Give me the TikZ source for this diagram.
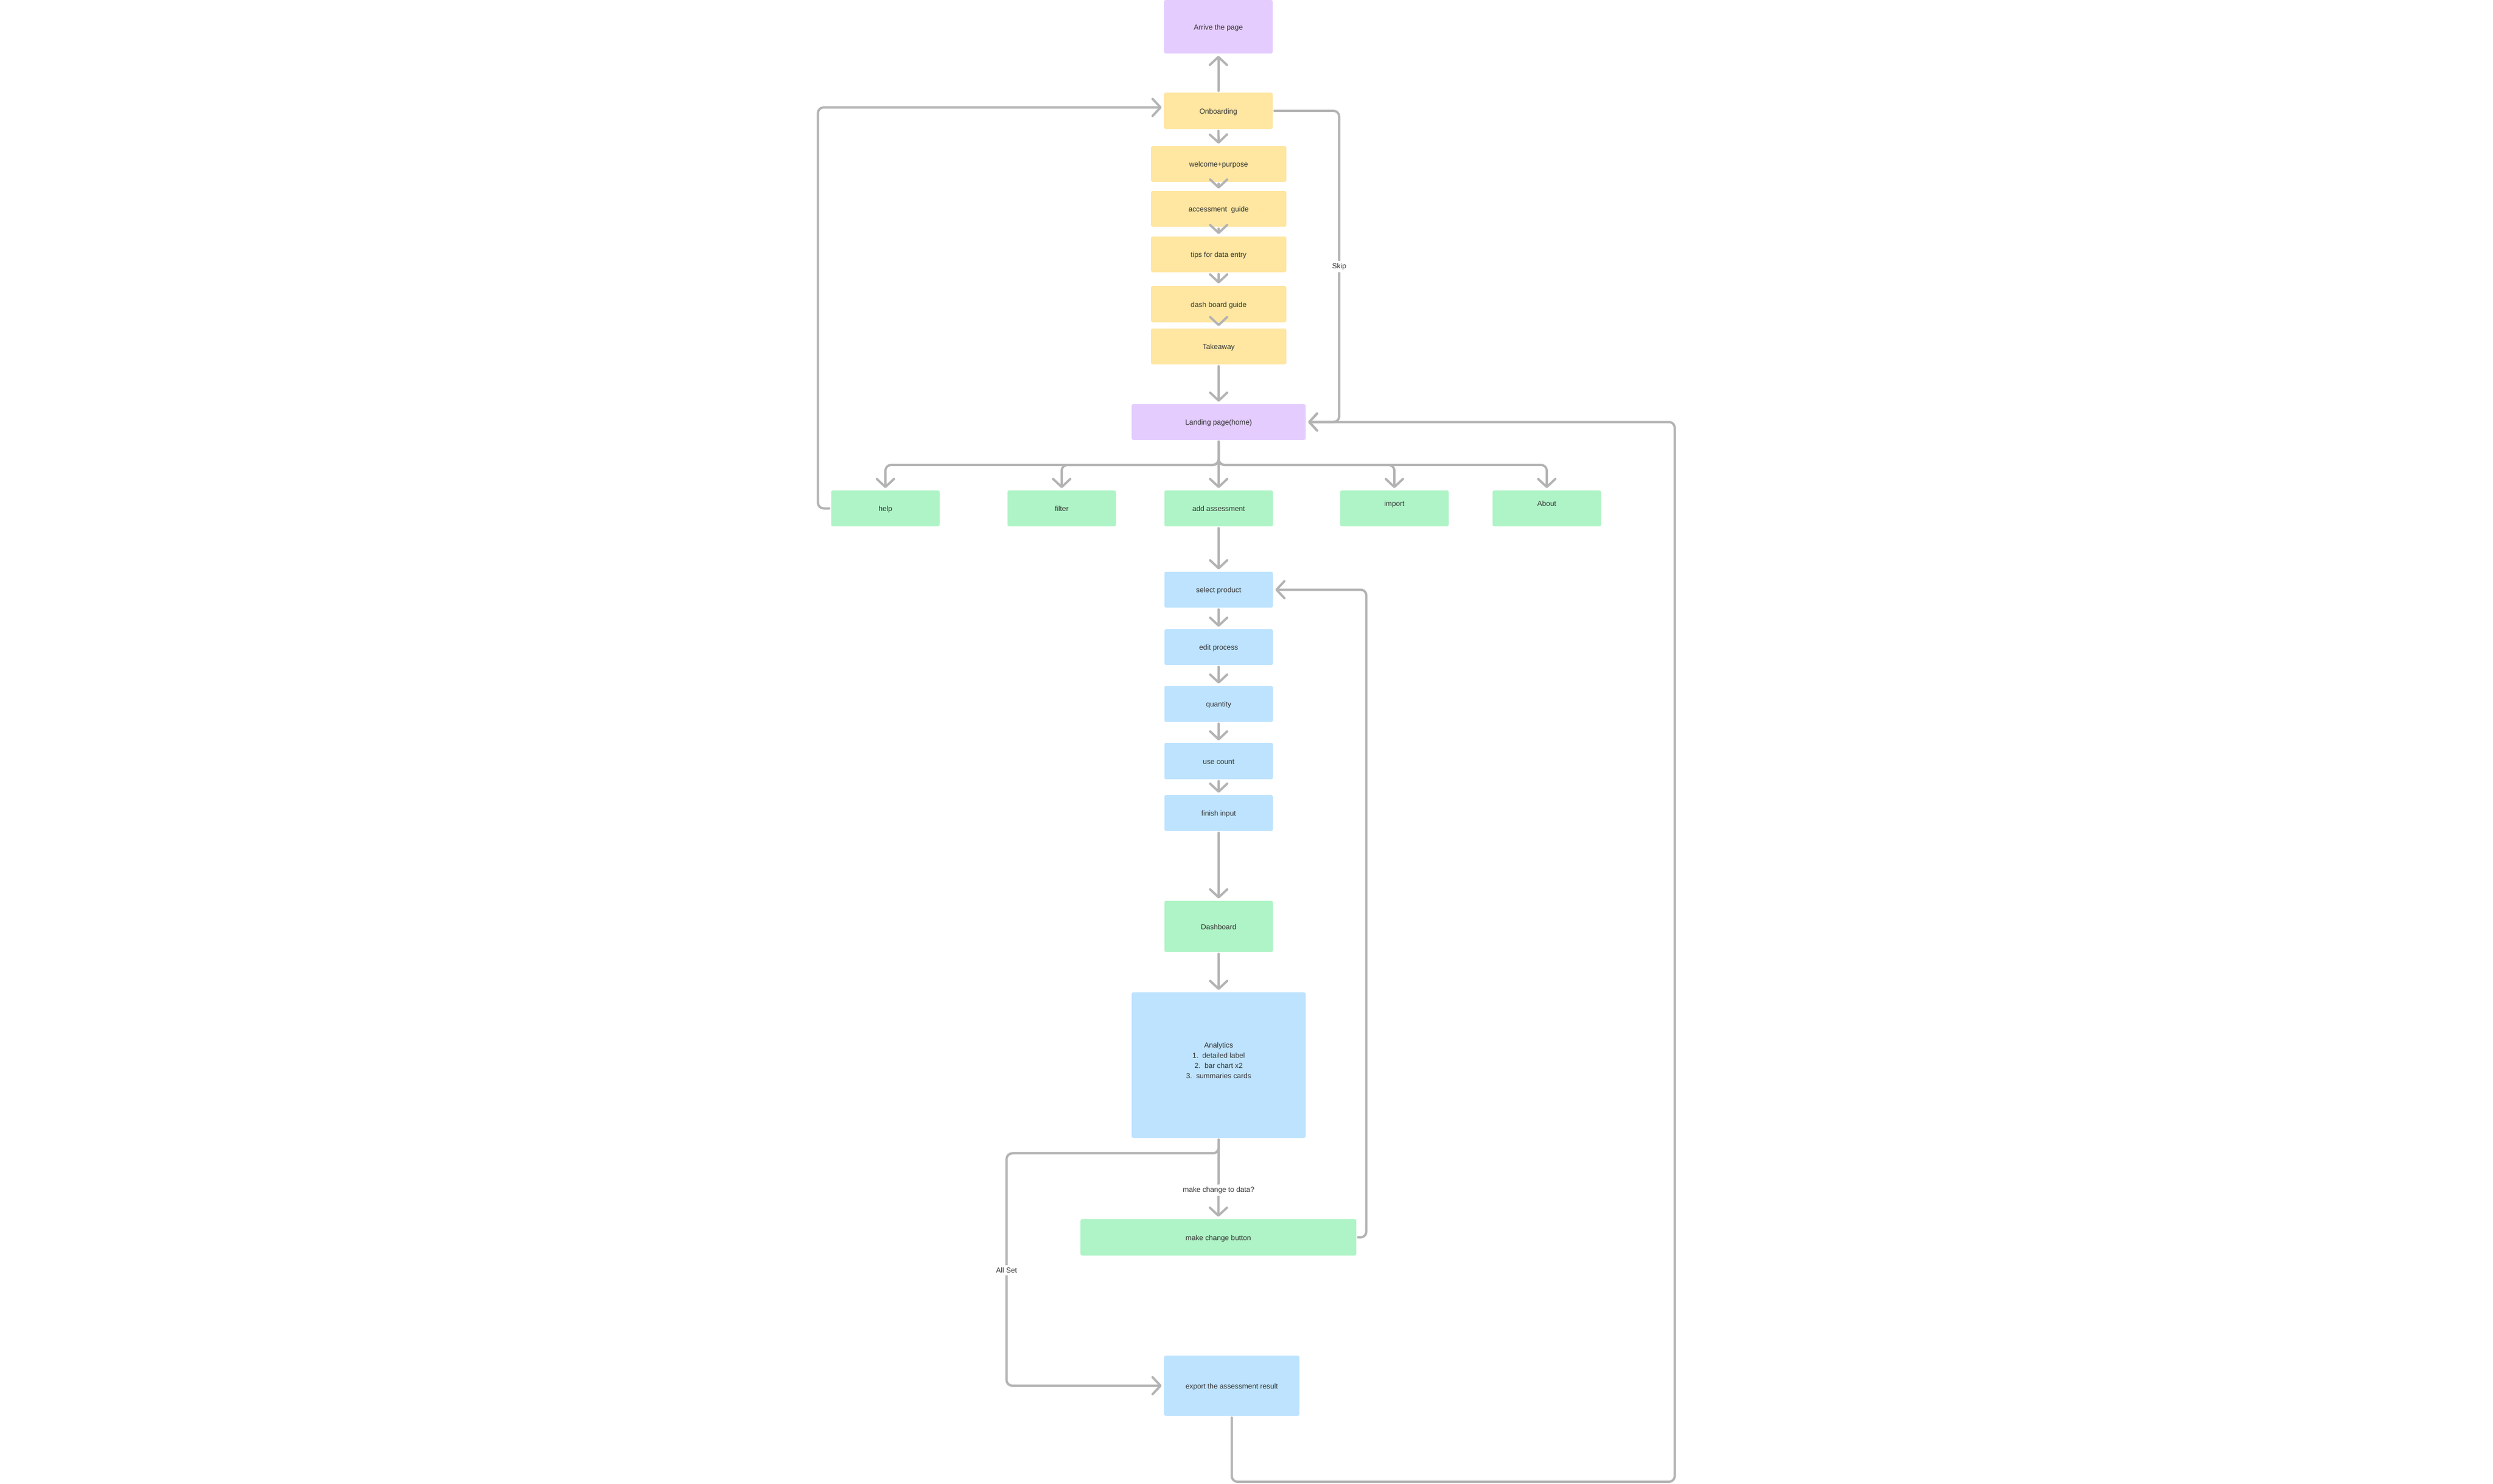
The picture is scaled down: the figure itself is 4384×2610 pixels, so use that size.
\documentclass[tikz,border=0pt]{standalone}
\usepackage{fontspec}
\setmainfont{Liberation Sans}
\usetikzlibrary{arrows.meta,calc}
\pgfdeclarelayer{fg}
\pgfsetlayers{main,fg}
\definecolor{purp}{HTML}{E4CCFF}
\definecolor{yell}{HTML}{FFE6A1}
\definecolor{gren}{HTML}{AFF4C6}
\definecolor{blue}{HTML}{BDE3FF}
\definecolor{lnc}{HTML}{B3B3B3}
\definecolor{txt}{HTML}{333333}
\tikzset{
  box/.style={rectangle, rounded corners=3pt, draw=none, text=txt,
    font=\fontsize{12.7}{18}\selectfont, inner sep=0pt,
    text height=10pt, text depth=0pt,
    minimum width=191pt, minimum height=63pt},
  wbox/.style={box, minimum width=238pt},
  lbox/.style={box, minimum width=306pt},
  inlbl/.style={text=txt, font=\fontsize{12.7}{18}\selectfont, inner sep=0pt,
    text height=10pt, text depth=0pt},
  arr/.style={draw=lnc, line width=4pt, line cap=round, line join=round,
    rounded corners=10pt, -{Straight Barb[length=14pt,width=30pt,line cap=round,line join=round]},
    shorten >=4pt, shorten <=3pt},
  lbl/.style={fill=white, text=txt, font=\fontsize{12.7}{15}\selectfont, inner sep=4pt}
}
\begin{document}
\begin{tikzpicture}[x=1pt,y=-1pt]
\fill[white] (0,0) rectangle (4384,2610);
\useasboundingbox (0,0) rectangle (4384,2610);

% onboarding column
\node[box, fill=purp, minimum height=94pt] (arrive) at (2142.5,47) {Arrive the page};
\node[box, fill=yell, minimum height=64pt] (onb) at (2142.5,195) {Onboarding};
\node[wbox, fill=yell] (welcome) at (2143,288.5) {welcome+purpose};
\node[wbox, fill=yell] (guide) at (2143,367.5) {accessment\ \ guide};
\node[wbox, fill=yell] (tips) at (2143,447.5) {tips for data entry};
\node[wbox, fill=yell, minimum height=64pt] (dash) at (2143,535) {dash board guide};
\node[wbox, fill=yell] (take) at (2143,609.5) {Takeaway};
\node[lbox, fill=purp] (landing) at (2143,742.5) {Landing page(home)};

% menu row
\node[box, fill=gren] (help) at (1557,894.5) {help};
\node[box, fill=gren] (filter) at (1867,894.5) {filter};
\node[box, fill=gren] (add) at (2143,894.5) {add assessment};
\node[box, fill=gren, label={[inlbl, yshift=9pt]center:import}] (import) at (2452,894.5) {};
\node[box, fill=gren, label={[inlbl, yshift=9pt]center:About}] (about) at (2720,894.5) {};

% input column
\node[box, fill=blue] (sel) at (2143,1037.5) {select product};
\node[box, fill=blue] (edit) at (2143,1138.5) {edit process};
\node[box, fill=blue] (qty) at (2143,1238.5) {quantity};
\node[box, fill=blue, minimum height=64pt] (use) at (2143,1339) {use count};
\node[box, fill=blue] (fin) at (2143,1430.5) {finish input};
\node[box, fill=gren, minimum height=90pt] (dashb) at (2143,1630) {Dashboard};
\node[lbox, fill=blue, minimum height=256pt,
  label={[text=txt, font=\fontsize{12.7}{18}\selectfont, align=center, yshift=8pt]center:{Analytics\\1.\ \ detailed label\\2.\ \ bar chart x2\\3.\ \ summaries cards}}] (ana) at (2143,1874) {};
\node[box, fill=gren, minimum width=485pt, minimum height=64pt] (mcb) at (2142.5,2177) {make change button};
\node[box, fill=blue, minimum width=238pt, minimum height=106pt] (export) at (2166,2438) {export the assessment result};

% labels
\begin{pgfonlayer}{fg}
\node[lbl] (skip) at (2355,469) {Skip};
\node[lbl] (mc) at (2143,2094) {make change to data?};
\node[lbl] (allset) at (1770,2235) {All Set};
\end{pgfonlayer}

\coordinate (bus) at (0,818);
\coordinate (br) at (2945,2607);

% connectors
\draw[arr] (onb.north) -- (arrive.south);
\draw[arr] (onb.south) -- (welcome.north);
\draw[arr] (welcome.south) -- (guide.north);
\draw[arr] (guide.south) -- (tips.north);
\draw[arr] (tips.south) -- (dash.north);
\draw[arr] (dash.south) -- (take.north);
\draw[arr] (take.south) -- (landing.north);
\draw[arr] (onb.east) -| (landing.east -| skip) -- (landing.east);

\draw[arr] (landing.south) |- (help.north |- bus) -- (help.north);
\draw[arr] (landing.south) |- (filter.north |- bus) -- (filter.north);
\draw[arr] (landing.south) -- (add.north);
\draw[arr] (landing.south) |- (import.north |- bus) -- (import.north);
\draw[arr] (landing.south) |- (about.north |- bus) -- (about.north);
\draw[arr] (help.west) -- ++(-23,0) |- ($(onb.west)+(0,-6)$);

\draw[arr] (add.south) -- (sel.north);
\draw[arr] (sel.south) -- (edit.north);
\draw[arr] (edit.south) -- (qty.north);
\draw[arr] (qty.south) -- (use.north);
\draw[arr] (use.south) -- (fin.north);
\draw[arr] (fin.south) -- (dashb.north);
\draw[arr] (dashb.south) -- (ana.north);
\draw[arr] (ana.south) -- (mcb.north);
\draw[arr] (ana.south) -- ++(0,27) -| (allset.center) |- (export.west);
\draw[arr] (mcb.east) -| ($(sel.east)+(164,0)$) -- (sel.east);
\draw[arr] (export.south) |- (br) |- (landing.east);
\end{tikzpicture}
\end{document}
